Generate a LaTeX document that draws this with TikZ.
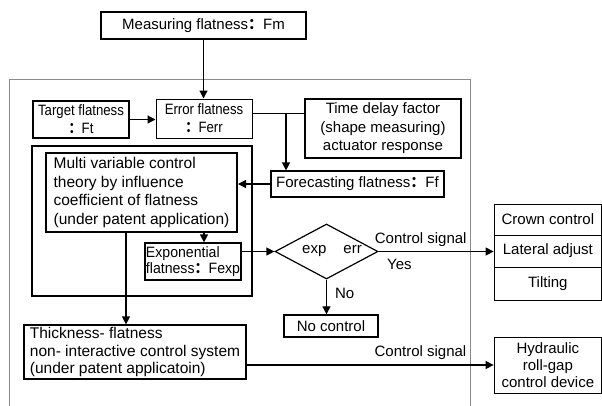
\documentclass[tikz,border=0pt]{standalone}
\usepackage{fontspec}
\usepackage{graphicx}
\setmainfont{Liberation Sans}
\newfontfamily\cjkf{Noto Sans CJK SC}
\usetikzlibrary{arrows.meta,shapes.geometric,calc}
\newcommand{\fcolon}{{\cjkf\bfseries ：}}
\newcommand{\narr}[1]{\scalebox{0.88}[1]{#1}}
\newcommand{\semi}[1]{\scalebox{0.94}[1]{#1}}
\begin{document}
\begin{tikzpicture}[x=1pt,y=-1pt,
  box/.style={draw, rectangle, inner sep=0pt, align=center, font=\fontsize{15}{18}\selectfont},
  arr/.style={-{Triangle[length=8pt,width=8pt]}, line width=1.2pt},
  ln/.style={line width=1pt},
  lbl/.style={inner sep=0pt, font=\fontsize{15}{18}\selectfont}]
\useasboundingbox (0,0) rectangle (602,405);
% outer frame
\draw[black!45, line width=0.9pt] (9.5,406) -- (9.5,79) -- (470.7,79) -- (470.7,406);
% nodes
\node[box, line width=1.4pt, minimum width=205pt, minimum height=27pt] (meas) at (203.5,25.5) {Measuring flatness\fcolon Fm};
\node[box, line width=1.8pt, minimum width=96pt, minimum height=37pt] (target) at (81,119.5) {\narr{Target flatness}\\\narr{\fcolon Ft}};
\node[box, line width=1pt, minimum width=96pt, minimum height=39pt] (err) at (204,118.5) {\narr{Error flatness}\\\narr{\fcolon Ferr}};
\node[box, line width=1.4pt, minimum width=156pt, minimum height=59pt, font=\fontsize{15}{18.5}\selectfont] (time) at (383,128.5) {Time delay factor\\(shape measuring)\\actuator response};
\node[box, line width=1.2pt, minimum width=173pt, minimum height=26pt] (fore) at (357.5,184) {Forecasting flatness\fcolon Ff};
\node[box, line width=2pt, minimum width=220pt, minimum height=150pt] (mid) at (142,221) {};
\node[box, line width=2pt, minimum width=191pt, minimum height=79pt, align=left, font=\fontsize{15.5}{18.7}\selectfont] (multi) at (141.5,192.5) {Multi variable control\\theory by influence\\coefficient of flatness\\(under patent application)};
\node[box, line width=1.2pt, minimum width=96pt, minimum height=37pt, align=left, font=\fontsize{15}{16.7}\selectfont] (expo) at (193,261.5) {\semi{Exponential}\\\semi{flatness\fcolon Fexp}};
\node[draw, diamond, shape aspect=1.9, minimum width=103pt, minimum height=55pt, inner sep=0pt, line width=1.2pt, font=\fontsize{15}{18}\selectfont] (dia) at (326.5,251.5) {\hspace{11pt}exp\hspace{17pt}err};
\node[box, line width=1.4pt, minimum width=94pt, minimum height=22pt] (noc) at (331,326) {No control};
\node[box, line width=1.2pt, minimum width=222pt, minimum height=54pt, align=left, font=\fontsize{15.5}{17.5}\selectfont] (thick) at (135,352) {Thickness- flatness\\non- interactive control system\\(under patent applicatoin)};
\node[box, line width=0.8pt, minimum width=107.7pt, minimum height=31pt] (crown) at (547.85,219.5) {Crown control};
\node[box, line width=0.8pt, minimum width=107.7pt, minimum height=32pt] (lat) at (547.85,251) {Lateral adjust};
\node[box, line width=0.8pt, minimum width=107.7pt, minimum height=33pt] (tilt) at (547.85,283.5) {Tilting};
\node[box, line width=0.8pt, minimum width=107.7pt, minimum height=56pt, font=\fontsize{15}{16.7}\selectfont] (hyd) at (547.85,365) {Hydraulic\\roll-gap\\control device};
% connectors
\coordinate (j) at (286,113);
\coordinate (xa) at (204,0);
\coordinate (xb) at (126,0);
\draw[arr] (meas.south) -- (meas.south |- err.north);
\draw[arr] (target.east) -- (err.west |- target.east);
\draw[ln] (err.east |- j) -- (time.west |- j);
\draw[arr] (j) -- (j |- fore.north);
\draw[arr] (fore.west) -- (multi.east |- fore.west);
\draw[arr] (xa |- multi.south) -- (xa |- expo.north);
\draw[arr] (xb |- multi.south) -- (xb |- thick.north);
\draw[arr] (expo.east |- dia.west) -- (dia.west);
\draw[arr] (dia.east) -- (lat.west |- dia.east)
  node[lbl, pos=0.366, anchor=south, yshift=4.5pt] {Control signal}
  node[lbl, pos=0, anchor=north west, xshift=8pt, yshift=-7.5pt] {Yes};
\draw[arr] (dia.south) -- (dia.south |- noc.north)
  node[lbl, pos=0.39, anchor=west, xshift=8pt] {No};
\draw[arr] (thick.east |- hyd.west) -- (hyd.west)
  node[lbl, pos=0.704, anchor=south, yshift=4.6pt] {Control signal};
\end{tikzpicture}
\end{document}
